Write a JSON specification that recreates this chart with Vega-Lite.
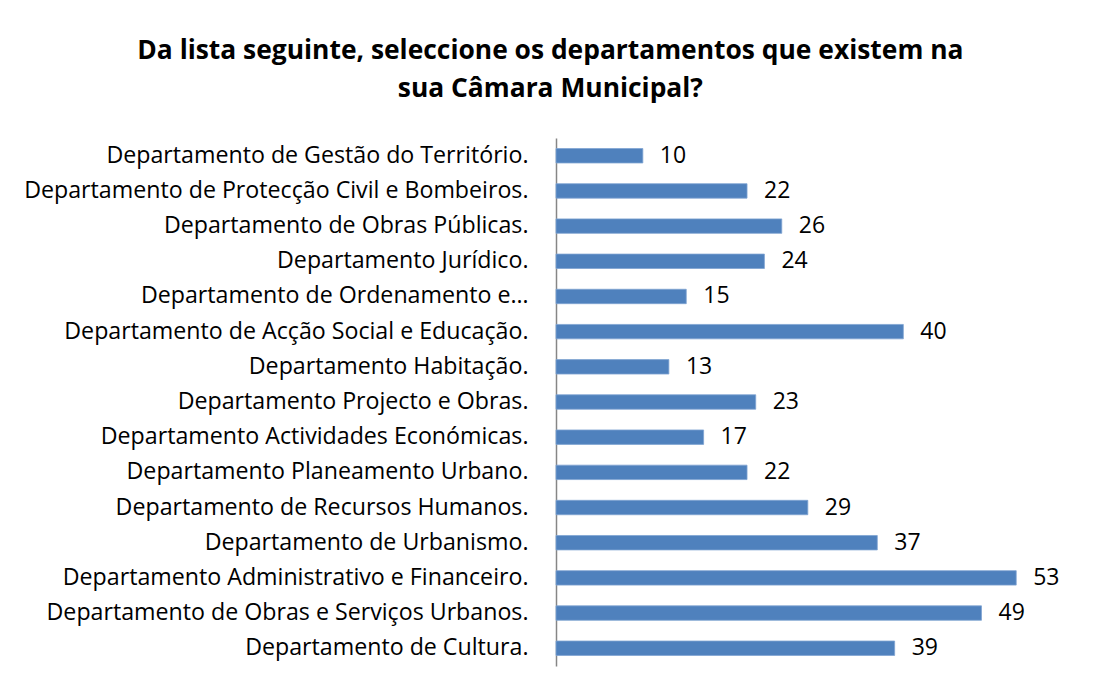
{
  "$schema": "https://vega.github.io/schema/vega-lite/v6.json",
  "width": 521,
  "height": 528,
  "autosize": {"type": "none"},
  "padding": {"left": 556, "top": 138, "right": 17, "bottom": 23},
  "background": "white",
  "title": {
    "text": ["Da lista seguinte, seleccione os departamentos que existem na", "sua Câmara  Municipal?"],
    "anchor": "middle",
    "frame": "bounds",
    "font": "Open Sans",
    "fontSize": 26.4,
    "fontWeight": "bold",
    "color": "#000000",
    "lineHeight": 38,
    "offset": 36
  },
  "data": {
    "values": [
      {"dep": "Departamento de Gestão do Território.", "n": 10},
      {"dep": "Departamento de Protecção Civil e Bombeiros.", "n": 22},
      {"dep": "Departamento de Obras Públicas.", "n": 26},
      {"dep": "Departamento Jurídico.", "n": 24},
      {"dep": "Departamento de Ordenamento e…", "n": 15},
      {"dep": "Departamento de Acção Social e Educação.", "n": 40},
      {"dep": "Departamento Habitação.", "n": 13},
      {"dep": "Departamento Projecto e Obras.", "n": 23},
      {"dep": "Departamento Actividades Económicas.", "n": 17},
      {"dep": "Departamento Planeamento Urbano.", "n": 22},
      {"dep": "Departamento de Recursos Humanos.", "n": 29},
      {"dep": "Departamento de Urbanismo.", "n": 37},
      {"dep": "Departamento Administrativo e Financeiro.", "n": 53},
      {"dep": "Departamento de Obras e Serviços Urbanos.", "n": 49},
      {"dep": "Departamento de Cultura.", "n": 39}
    ]
  },
  "encoding": {
    "y": {
      "field": "dep",
      "type": "nominal",
      "sort": null,
      "scale": {"paddingInner": 0.59, "paddingOuter": 0.3},
      "axis": {
        "title": null,
        "ticks": false,
        "domainColor": "#868686",
        "domainWidth": 1.5,
        "labelFont": "Open Sans",
        "labelFontSize": 23.2,
        "labelColor": "#000000",
        "labelPadding": 28,
        "labelLimit": 700
      }
    },
    "x": {
      "field": "n",
      "type": "quantitative",
      "scale": {"domain": [0, 60], "nice": false},
      "axis": null
    }
  },
  "layer": [
    {"mark": {"type": "bar", "color": "#4F81BD", "stroke": "#7FA3D2", "strokeWidth": 0.8}},
    {
      "mark": {"type": "text", "align": "left", "dx": 17, "font": "Open Sans", "fontSize": 23, "color": "#000000"},
      "encoding": {"text": {"field": "n", "type": "quantitative"}}
    }
  ],
  "config": {"view": {"stroke": null}}
}
